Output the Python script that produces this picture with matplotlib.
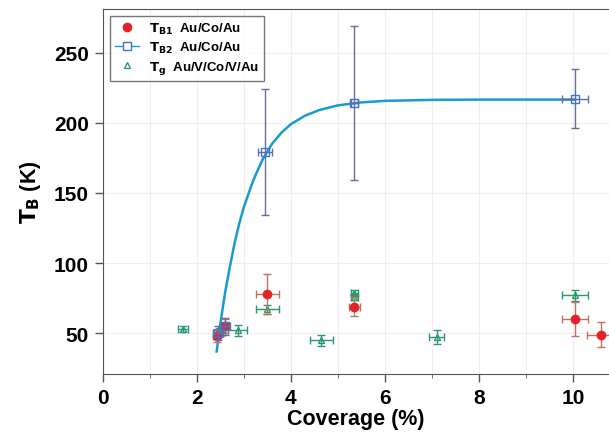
import matplotlib.pyplot as plt
from matplotlib.lines import Line2D

plt.rcParams['font.family'] = ['Liberation Sans', 'DejaVu Sans']
plt.rcParams['font.weight'] = 'bold'
plt.rcParams['mathtext.default'] = 'regular'

# T_B1  Au/Co/Au  (red filled circles)
tb1_x = [2.42, 2.6, 3.5, 5.35, 10.05, 10.6]
tb1_y = [48, 55, 78, 69, 60, 49]
tb1_xerr = [0.08, 0.08, 0.25, 0.12, 0.28, 0.3]
tb1_yerr = [4, 5, 14, 7, 12, 9]

# T_B2  Au/Co/Au  (blue open squares)
tb2_x = [2.45, 2.6, 3.45, 5.35, 10.05]
tb2_y = [50, 55, 179, 214, 217]
tb2_xerr = [0.1, 0.1, 0.15, 0.08, 0.28]
tb2_yerr = [5, 6, 45, 55, 21]

# T_g  Au/V/Co/V/Au  (green open triangles)
tg_x = [1.7, 2.5, 2.87, 3.5, 4.65, 5.35, 5.35, 7.1, 10.05]
tg_y = [53, 51, 52, 67, 45, 79, 76, 47, 77]
tg_xerr = [0.1, 0.1, 0.2, 0.25, 0.25, 0.08, 0.08, 0.15, 0.28]
tg_yerr = [2, 3, 4, 3, 4, 2, 2, 5, 4]

# fitted curve
fit_x = [2.42, 2.5, 2.6, 2.7, 2.8, 2.9, 3.0, 3.2, 3.4, 3.6, 3.8, 4.0, 4.3,
         4.6, 5.0, 5.5, 6.0, 7.0, 8.0, 9.0, 10.05]
fit_y = [37, 57, 79, 97, 114, 128, 140, 159, 174, 185, 193, 199, 205,
         209, 212.4, 214.5, 215.6, 216.3, 216.5, 216.5, 216.5]

red = '#e5222a'
blue = '#3d78c8'
green = '#2a9a6e'
curve = '#1a9ad2'

fig = plt.figure(figsize=(6.09, 4.39), dpi=100)
ax = fig.add_axes([0.169, 0.146, 0.831, 0.831])

ax.grid(True, which='both', color='#eeeeee', lw=0.8, zorder=0)

ax.plot(fit_x, fit_y, color=curve, lw=1.8, zorder=3)

ax.errorbar(tg_x, tg_y, xerr=tg_xerr, yerr=tg_yerr, fmt='^', ms=5,
            mfc='none', mec=green, ecolor=green, elinewidth=1, capsize=3,
            zorder=4)
ax.errorbar(tb1_x, tb1_y, xerr=tb1_xerr, yerr=tb1_yerr, fmt='o', ms=6,
            color=red, ecolor='#c8705e', elinewidth=1, capsize=3, zorder=5)
ax.errorbar(tb2_x, tb2_y, xerr=tb2_xerr, yerr=tb2_yerr, fmt='s', ms=6,
            mfc='none', mec=blue, ecolor='#6b6b9e', elinewidth=1, capsize=3,
            zorder=6)

ax.set_xlim(0, 10.77)
ax.set_ylim(21, 281)
ax.set_xticks([0, 2, 4, 6, 8, 10])
ax.set_xticks([1, 3, 5, 7, 9], minor=True)
ax.set_yticks([50, 100, 150, 200, 250])
ax.tick_params(axis='both', which='major', direction='out', length=6,
               width=1, color='#555555', labelsize=15, pad=4)
ax.tick_params(axis='x', which='minor', direction='out', length=3,
               color='#555555')
for s in ['left', 'bottom', 'top']:
    ax.spines[s].set_color('#555555')
ax.spines['right'].set_visible(False)

ax.set_xlabel('Coverage (%)', fontsize=15.5, fontweight='bold', labelpad=1)
ax.set_ylabel(r'$\mathbf{T_B}$ (K)', fontsize=15.5, fontweight='bold', labelpad=8)

handles = [
    Line2D([], [], ls='none', marker='o', color=red, ms=6),
    Line2D([], [], ls='-', color=curve, lw=1, marker='s', mfc='white',
           mec=blue, ms=6),
    Line2D([], [], ls='none', marker='^', mfc='none', mec=green, ms=5),
]
labels = [r'$\mathbf{T_{B1}}$  Au/Co/Au', r'$\mathbf{T_{B2}}$  Au/Co/Au',
          r'$\mathbf{T_g}$  Au/V/Co/V/Au']
leg = ax.legend(handles, labels, loc='upper left', fontsize=9.5,
                frameon=True, fancybox=False, edgecolor='#555555',
                borderpad=0.4, labelspacing=0.3, handlelength=1.8,
                handletextpad=0.8, bbox_to_anchor=(0.0, 1.0))
leg.get_frame().set_linewidth(1)

fig.savefig('out.png', dpi=100)
